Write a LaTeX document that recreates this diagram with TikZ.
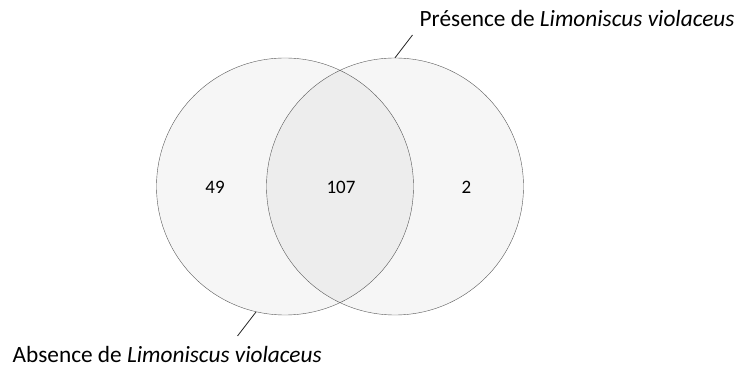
\documentclass[tikz,border=0pt]{standalone}
\usepackage{fontspec}
\setmainfont{Carlito}
\usepackage{tikz}
\usetikzlibrary{arrows}

\begin{document}
\begin{tikzpicture}[x=1pt,y=1pt,
  ensemble/.style={circle,draw=black!65,fill=black,fill opacity=0.035,text opacity=1,minimum size=257pt,inner sep=0pt},
  effectif/.style={font=\fontsize{19}{22}\selectfont},
  legende/.style={font=\fontsize{23.3}{27}\selectfont,anchor=base west,inner sep=0pt}]
\useasboundingbox (0,0) rectangle (740,369);
\node [ensemble] (absence) at (285,182.5) {}; \node [ensemble] (presence) at (395,182.5) {};
\node [effectif] (n49) at (215,181.5) {49}; \node [effectif] (n107) at (341,181.5) {107}; \node [effectif] (n2) at (466.5,181.5) {2};
\node [legende] (lpresence) at (419.5,342.5) {Présence de \textit{Limoniscus violaceus}};
\node [legende] (labsence) at (12.5,6.5) {Absence de \textit{Limoniscus violaceus}};
\coordinate (cpresence) at (412.5,334); \coordinate (cabsence) at (237.5,33);
\draw [thick,black!85] (presence.north) -- (cpresence);
\draw [thick,black!85] (absence.257) -- (cabsence);
\end{tikzpicture}
\end{document}
